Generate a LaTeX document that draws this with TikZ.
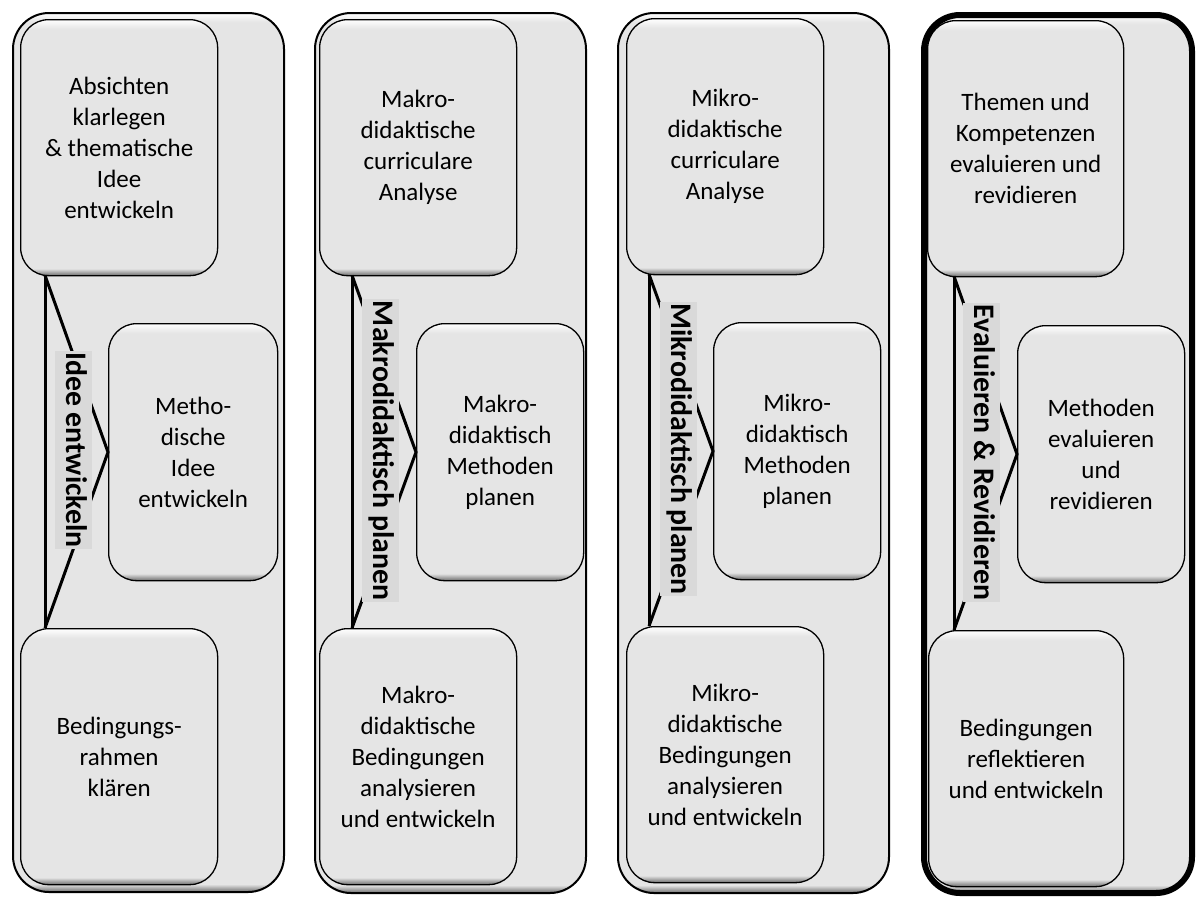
\documentclass[tikz,border=0pt]{standalone}
\usepackage{fontspec}
\setmainfont{Carlito}
\usetikzlibrary{calc}
\definecolor{boxgray}{gray}{0.9}
\definecolor{labelgray}{gray}{0.85}
\definecolor{bevdark}{gray}{0.42}
\pgfdeclareverticalshading{bevbox}{100bp}{color(0bp)=(bevdark); color(25bp)=(bevdark);
  color(26.4bp)=(boxgray); color(73.2bp)=(boxgray); color(75bp)=(white); color(100bp)=(white)}
\pgfdeclareverticalshading{bevcol}{100bp}{color(0bp)=(bevdark); color(25bp)=(bevdark);
  color(25.45bp)=(boxgray); color(74.5bp)=(boxgray); color(75bp)=(white); color(100bp)=(white)}
\tikzset{
  colbox/.style={draw=black, line width=2pt, rounded corners=36pt, shade, shading=bevcol,
    inner sep=0pt, anchor=north west},
  colboxthick/.style={colbox, line width=6pt},
  stepbox/.style={draw=black, line width=1.3pt, rounded corners=28pt, shade, shading=bevbox,
    inner sep=0pt, align=center, anchor=north west,
    font=\fontsize{25}{31}\selectfont},
  sidebox/.style={stepbox, minimum width=168pt, minimum height=257pt},
  mainbox/.style={stepbox, minimum width=197pt, minimum height=256pt},
  conn/.style={draw=black, line width=3pt, line join=miter},
  lab/.style={fill=labelgray, rotate=-90, inner xsep=1.5pt, inner ysep=4pt,
    text height=21.5pt, text depth=7.5pt,
    font=\bfseries\fontsize{29.8}{31}\selectfont},
}
\begin{document}
\begin{tikzpicture}[x=1pt,y=1pt]
\useasboundingbox (0,0) rectangle (1197,-898);
% columns
\node[colbox, minimum width=271pt, minimum height=879pt] (c1) at (12,-12) {};
\node[colbox, minimum width=271pt, minimum height=880pt] (c2) at (314,-12) {};
\node[colbox, minimum width=271pt, minimum height=880pt] (c3) at (617,-12) {};
\node[colboxthick, minimum width=268pt, minimum height=878pt] (c4) at (921,-12) {};
% column 1
\node[mainbox] (t1) at (20,-19) {Absichten\\klarlegen\\\& thematische\\Idee\\entwickeln};
\node[sidebox, minimum width=169pt] (m1) at (108,-323) {Metho-\\dische\\Idee\\entwickeln};
\node[mainbox] (b1) at (20,-628) {Bedingungs-\\rahmen\\klären};
% column 2
\node[mainbox] (t2) at (319,-19) {Makro-\\didaktische\\curriculare\\Analyse};
\node[sidebox, minimum width=167pt] (m2) at (416,-323) {Makro-\\didaktisch\\Methoden\\planen};
\node[mainbox] (b2) at (319,-628) {Makro-\\didaktische\\Bedingungen\\analysieren\\und entwickeln};
% column 3
\node[mainbox] (t3) at (626,-18) {Mikro-\\didaktische\\curriculare\\Analyse};
\node[sidebox, minimum width=167pt] (m3) at (713,-322) {Mikro-\\didaktisch\\Methoden\\planen};
\node[mainbox] (b3) at (626,-626) {Mikro-\\didaktische\\Bedingungen\\analysieren\\und entwickeln};
% column 4
\node[mainbox, minimum width=196pt] (t4) at (927,-20) {Themen und\\Kompetenzen\\evaluieren und\\revidieren};
\node[sidebox, minimum width=167pt] (m4) at (1017,-325) {Methoden\\evaluieren\\und\\revidieren};
\node[mainbox, minimum width=195pt] (b4) at (928,-630) {Bedingungen\\reflektieren\\und entwickeln};
% connectors
\coordinate (p1) at ($(t1.south west)+(25,1)$);
\coordinate (q1) at (p1 |- b1.north);
\coordinate (p2) at ($(t2.south west)+(33,1)$);
\coordinate (q2) at (p2 |- b2.north);
\coordinate (p3) at ($(t3.south west)+(23,1)$);
\coordinate (q3) at (p3 |- b3.north);
\coordinate (p4) at ($(t4.south west)+(27,1)$);
\coordinate (q4) at (p4 |- b4.north);
\draw[conn] (p1) -- (q1);
\draw[conn] (p1) -- (m1.west) -- (q1);
\draw[conn] (p2) -- (q2);
\draw[conn] (p2) -- (m2.west) -- (q2);
\draw[conn] (p3) -- (q3);
\draw[conn] (p3) -- (m3.west) -- (q3);
\draw[conn] (p4) -- (q4);
\draw[conn] (p4) -- (m4.west) -- (q4);
% labels
\node[lab] (l1) at (73.5,-450) {Idee entwickeln};
\node[lab] (l2) at (380,-450.5) {Makrodidaktisch planen};
\node[lab] (l3) at (678.5,-449) {Mikrodidaktisch planen};
\node[lab] (l4) at (981.5,-452.5) {Evaluieren \& Revidieren};
\end{tikzpicture}
\end{document}
